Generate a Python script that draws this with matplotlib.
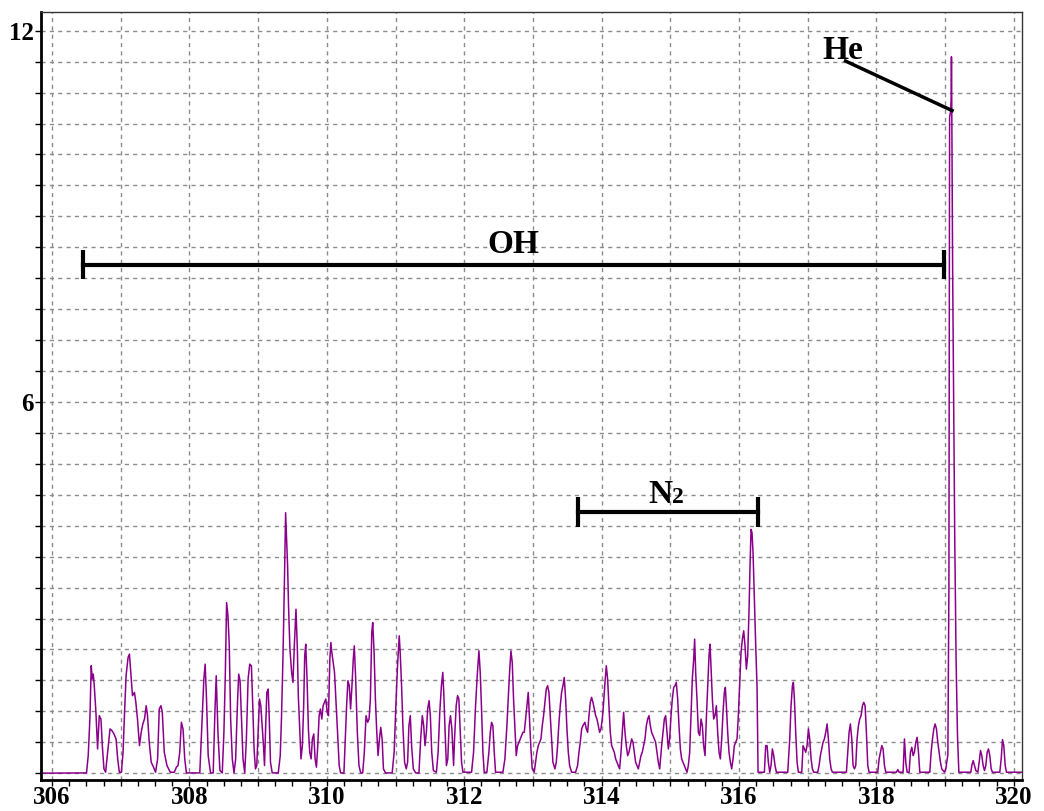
import numpy as np
import matplotlib
matplotlib.use("Agg")
from matplotlib import pyplot as plt
from matplotlib.ticker import MultipleLocator, FixedLocator

# spectrum: wavelength (nm) and intensity (a.u.)
wavelength = [
    305.80, 306.502, 306.527, 306.551, 306.571, 306.585, 306.600, 306.615, 306.639, 306.663,
    306.688, 306.712, 306.732, 306.756, 306.780, 306.810, 306.844, 306.873, 306.902, 306.932,
    306.956, 306.980, 307.010, 307.034, 307.054, 307.078, 307.107, 307.127, 307.146, 307.171,
    307.200, 307.220, 307.244, 307.273, 307.298, 307.322, 307.346, 307.371, 307.390, 307.415,
    307.444, 307.478, 307.507, 307.537, 307.561, 307.585, 307.605, 307.634, 307.673, 307.722,
    307.780, 307.810, 307.834, 307.859, 307.883, 307.907, 307.932, 307.956, 308.151, 308.180,
    308.210, 308.229, 308.249, 308.273, 308.307, 308.346, 308.371, 308.390, 308.415, 308.444,
    308.478, 308.502, 308.522, 308.541, 308.561, 308.580, 308.600, 308.624, 308.649, 308.673,
    308.698, 308.717, 308.737, 308.756, 308.780, 308.805,
    308.829, 308.854, 308.878, 308.902, 308.922, 308.941, 308.961, 308.980, 309.000, 309.020,
    309.039, 309.059, 309.078, 309.093, 309.107, 309.127, 309.146, 309.161, 309.180, 309.205,
    309.293, 309.322, 309.341, 309.361, 309.380, 309.400, 309.415, 309.429, 309.444, 309.463,
    309.488, 309.507, 309.527, 309.551, 309.571, 309.585, 309.605, 309.624, 309.644, 309.663,
    309.678, 309.693, 309.712, 309.732, 309.751, 309.771, 309.790, 309.810, 309.829, 309.849,
    309.868, 309.888, 309.907, 309.927, 309.946, 309.966, 309.985, 310.005, 310.024, 310.044,
    310.059, 310.073, 310.093, 310.112, 310.132, 310.156, 310.180, 310.200, 310.249, 310.268,
    310.288, 310.307, 310.327, 310.346, 310.366, 310.385, 310.400, 310.420, 310.444, 310.468,
    310.493, 310.522, 310.546, 310.571, 310.595, 310.615, 310.634, 310.654, 310.668, 310.688,
    310.707, 310.727, 310.746, 310.766, 310.785, 310.805, 310.824, 310.854, 310.951, 310.980,
    311.005, 311.029, 311.054, 311.068, 311.088, 311.107, 311.132, 311.156, 311.176, 311.195,
    311.215, 311.234, 311.259, 311.293, 311.341, 311.366, 311.390, 311.410, 311.429, 311.449,
    311.468, 311.488, 311.507, 311.527, 311.551, 311.595, 311.620, 311.644, 311.668, 311.688,
    311.702, 311.722, 311.741, 311.761, 311.780, 311.800, 311.820, 311.845,
    311.859, 311.883, 311.903, 311.922, 311.942, 311.961, 311.981, 312.107, 312.136, 312.165,
    312.189, 312.214, 312.233, 312.252, 312.272, 312.291, 312.330, 312.359, 312.379, 312.398,
    312.417, 312.437, 312.456, 312.563, 312.592, 312.621, 312.641, 312.660, 312.680, 312.699,
    312.718, 312.738, 312.757, 312.777, 312.796, 312.816, 312.835, 312.854, 312.874, 312.893,
    312.913, 312.932, 312.951, 312.971, 312.990, 313.019, 313.039, 313.058, 313.078, 313.097,
    313.117, 313.136, 313.155, 313.175, 313.194, 313.214, 313.233, 313.252, 313.272, 313.291,
    313.320, 313.340, 313.359, 313.379, 313.398, 313.417, 313.437, 313.456, 313.476, 313.495,
    313.515, 313.534, 313.563, 313.621, 313.650, 313.670, 313.689, 313.709, 313.728, 313.757,
    313.777, 313.796, 313.816, 313.835, 313.854, 313.874, 313.893, 313.913, 313.932, 313.951,
    313.971, 313.990, 314.010, 314.029, 314.049, 314.068, 314.087, 314.107, 314.126, 314.146,
    314.165, 314.184, 314.204, 314.223, 314.243, 314.262, 314.282, 314.301, 314.320, 314.340,
    314.359, 314.379, 314.398, 314.417, 314.437, 314.456, 314.476, 314.495, 314.515, 314.534,
    314.553, 314.573, 314.592, 314.612, 314.631, 314.651, 314.670, 314.689, 314.709, 314.728,
    314.748, 314.767, 314.786, 314.806, 314.825, 314.845,
    314.874, 314.893, 314.913, 314.932, 314.951, 314.971, 314.990, 315.010, 315.029, 315.049,
    315.068, 315.087, 315.107, 315.126, 315.146, 315.165, 315.184, 315.204, 315.223, 315.243,
    315.262, 315.282, 315.301, 315.320, 315.340, 315.354, 315.369, 315.388, 315.408, 315.427,
    315.447, 315.466, 315.485, 315.505, 315.524, 315.544, 315.563, 315.578, 315.592, 315.612,
    315.631, 315.650, 315.670, 315.689, 315.709, 315.728, 315.748, 315.767, 315.786, 315.801,
    315.816, 315.835, 315.854, 315.874, 315.893, 315.913, 315.932, 315.951, 315.971, 315.990,
    316.010, 316.029, 316.049, 316.068, 316.087, 316.107, 316.126, 316.146, 316.160, 316.175,
    316.189, 316.204, 316.223, 316.243, 316.262, 316.277, 316.369, 316.388, 316.408, 316.427,
    316.447, 316.466, 316.485, 316.505, 316.524, 316.544, 316.709, 316.738, 316.757, 316.777,
    316.791, 316.806, 316.825, 316.845, 316.864, 316.913, 316.932, 316.951, 316.971, 316.990,
    317.010, 317.029, 317.049, 317.068, 317.087, 317.146, 317.165, 317.184, 317.204, 317.223,
    317.243, 317.262, 317.282, 317.301, 317.320, 317.340, 317.359, 317.563, 317.583, 317.602,
    317.621, 317.641, 317.660, 317.680, 317.699, 317.718, 317.738, 317.757, 317.777, 317.796,
    317.816, 317.835,
    317.854, 317.874, 317.893, 318.019, 318.039, 318.058, 318.078, 318.097, 318.117, 318.136,
    318.291, 318.311, 318.330, 318.388, 318.408, 318.427, 318.447, 318.476, 318.495, 318.515,
    318.534, 318.553, 318.573, 318.592, 318.612, 318.631, 318.777, 318.796, 318.816, 318.835,
    318.854, 318.874, 318.893, 318.913, 318.932, 318.951, 318.990, 319.010,
    319.040, 319.055, 319.065, 319.080, 319.088, 319.092, 319.096, 319.110, 319.140, 319.160,
    319.180, 319.200, 319.374, 319.388, 319.408, 319.427, 319.447, 319.476, 319.495, 319.515,
    319.534, 319.553, 319.573, 319.592, 319.612, 319.631, 319.650, 319.670, 319.689, 319.796,
    319.816, 319.835, 319.854, 319.874, 319.893, 320.20,
]
intensity = [
    0.0, 0.005, 0.285, 0.876, 1.737, 1.522, 1.602, 1.414, 0.984, 0.392,
    0.930, 0.876, 0.446, 0.070, 0.016, 0.339, 0.715, 0.688, 0.634, 0.554,
    0.231, 0.016, 0.016, 0.339, 0.930, 1.575, 1.871, 1.925, 1.629, 1.253,
    1.306, 1.145, 0.876, 0.446, 0.661, 0.796, 0.876, 1.091, 0.930, 0.500,
    0.177, 0.097, 0.016, 0.231, 1.038, 1.091, 0.984, 0.339, 0.124, 0.016,
    0.016, 0.097, 0.124, 0.339, 0.823, 0.715, 0.231, 0.005, 0.005, 0.769,
    1.522, 1.763, 1.199, 0.285, 0.005, 0.005, 0.984, 1.575, 0.661, 0.043,
    0.005, 0.661, 1.575, 2.758, 2.543, 2.059, 0.876, 0.231, 0.005, 0.231,
    1.091, 1.602, 1.495, 0.930, 0.231, 0.005,
    0.554, 1.522, 1.763, 1.737, 1.091, 0.392, 0.070, 0.124, 0.661, 1.199,
    1.091, 0.769, 0.446, 0.124, 0.661, 1.306, 1.360, 0.930, 0.177, 0.005,
    0.005, 0.285, 0.930, 1.844, 2.919, 4.210, 3.780, 3.349, 2.651, 2.005,
    1.629, 1.468, 2.059, 2.651, 2.005, 1.253, 0.715, 0.231, 0.446, 1.091,
    1.898, 2.086, 1.522, 0.715, 0.339, 0.231, 0.554, 0.634, 0.231, 0.097,
    0.446, 0.930, 1.038, 0.876, 1.091, 1.145, 1.199, 0.984, 0.930, 1.844,
    2.113, 1.952, 1.790, 1.629, 1.199, 0.661, 0.124, 0.005, 0.005, 0.554,
    1.091, 1.495, 1.414, 1.038, 1.414, 1.844, 2.059, 1.522, 0.661, 0.124,
    0.005, 0.005, 0.339, 0.930, 0.823, 0.876, 1.199, 2.274, 2.435, 1.952,
    1.199, 0.661, 0.285, 0.554, 0.742, 0.554, 0.070, 0.005, 0.005, 0.339,
    1.091, 1.737, 2.220, 1.952, 1.414, 0.769, 0.177, 0.070, 0.177, 0.769,
    0.930, 0.446, 0.070, 0.005, 0.005, 0.554, 0.930, 0.769, 0.446, 0.661,
    1.038, 1.172, 0.930, 0.339, 0.043, 0.016, 0.339, 0.984, 1.414, 1.629,
    1.306, 0.661, 0.124, 0.231, 0.769, 0.930, 0.715, 0.124,
    0.554, 1.091, 1.253, 1.199, 0.661, 0.177, 0.016, 0.016, 0.339, 1.091,
    1.575, 1.978, 1.629, 1.038, 0.339, 0.016, 0.016, 0.339, 0.661, 0.823,
    0.769, 0.339, 0.016, 0.016, 0.231, 0.769, 1.199, 1.629, 1.978, 1.790,
    1.199, 0.715, 0.285, 0.446, 0.500, 0.554, 0.608, 0.661, 0.661, 0.876,
    1.091, 1.306, 0.876, 0.392, 0.070, 0.016, 0.177, 0.339, 0.446, 0.500,
    0.554, 0.769, 0.930, 1.145, 1.360, 1.414, 1.306, 0.930, 0.554, 0.177,
    0.070, 0.177, 0.446, 0.823, 1.091, 1.306, 1.414, 1.548, 1.199, 0.715,
    0.339, 0.124, 0.016, 0.016, 0.124, 0.339, 0.500, 0.715, 0.769, 0.823,
    0.715, 0.661, 0.930, 1.145, 1.226, 1.145, 1.038, 0.930, 0.876, 0.769,
    0.661, 0.715, 0.876, 1.145, 1.468, 1.737, 1.522, 1.091, 0.661, 0.446,
    0.392, 0.339, 0.231, 0.177, 0.124, 0.070, 0.339, 0.661, 0.984, 0.661,
    0.446, 0.285, 0.339, 0.446, 0.554, 0.500, 0.339, 0.177, 0.124, 0.070,
    0.177, 0.285, 0.339, 0.446, 0.554, 0.769, 0.876, 0.930, 0.769, 0.661,
    0.608, 0.554, 0.500, 0.339, 0.177, 0.070,
    0.446, 0.661, 0.876, 0.930, 0.661, 0.392, 0.554, 0.930, 1.199, 1.387,
    1.414, 1.468, 1.199, 0.769, 0.392, 0.231, 0.177, 0.124, 0.070, 0.016,
    0.124, 0.339, 0.930, 1.522, 1.844, 2.167, 1.629, 1.199, 0.661, 0.608,
    0.876, 0.769, 0.446, 0.285, 0.876, 1.414, 1.898, 2.086, 1.737, 1.199,
    0.876, 0.930, 1.091, 0.661, 0.339, 0.231, 0.554, 0.984, 1.306, 1.387,
    1.091, 0.661, 0.339, 0.177, 0.070, 0.231, 0.446, 0.500, 0.554, 0.930,
    1.468, 1.952, 2.167, 2.301, 2.059, 1.683, 1.898, 2.651, 3.349, 3.941,
    3.887, 3.565, 2.812, 2.059, 1.414, 0.016, 0.016, 0.446, 0.446, 0.177,
    0.016, 0.124, 0.392, 0.285, 0.124, 0.016, 0.016, 0.554, 1.091, 1.414,
    1.468, 1.199, 0.661, 0.177, 0.016, 0.016, 0.446, 0.392, 0.339, 0.446,
    0.715, 0.554, 0.231, 0.070, 0.016, 0.016, 0.124, 0.285, 0.392, 0.500,
    0.554, 0.661, 0.796, 0.554, 0.231, 0.070, 0.016, 0.016, 0.339, 0.661,
    0.796, 0.554, 0.124, 0.070, 0.124, 0.554, 0.769, 0.876, 0.930, 1.091,
    1.145, 1.090,
    0.661, 0.124, 0.016, 0.016, 0.231, 0.339, 0.446, 0.392, 0.124, 0.016,
    0.016, 0.059, 0.016, 0.016, 0.554, 0.177, 0.016, 0.016, 0.339, 0.419,
    0.285, 0.339, 0.500, 0.581, 0.339, 0.016, 0.016, 0.339, 0.554, 0.715,
    0.796, 0.715, 0.500, 0.339, 0.177, 0.070, 0.016, 0.070,
    0.300, 3.000, 10.60, 10.70, 10.90, 11.58, 10.90, 8.000, 3.800, 1.800,
    0.600, 0.016, 0.016, 0.124, 0.204, 0.124, 0.043, 0.016, 0.177, 0.366,
    0.285, 0.124, 0.043, 0.124, 0.339, 0.392, 0.285, 0.070, 0.016, 0.016,
    0.231, 0.543, 0.446, 0.124, 0.016, 0.016,
]

# band annotations
oh_range = [306.45, 318.99]
oh_level = 8.22
n2_range = [313.66, 316.28]
n2_level = 4.22
he_label = [317.51, 11.55]
he_line_x = [317.55, 319.10]
he_line_y = [11.51, 10.71]

x_ticks = [306, 308, 310, 312, 314, 316, 318, 320]
y_ticks = [6, 12]

plt.rcParams['font.family'] = ['Liberation Serif', 'DejaVu Serif']

fig = plt.figure(figsize=(10.44, 8.11), dpi=100)
ax = fig.add_axes([0.0393, 0.0382, 0.9397, 0.9468])

# dashed grid: every 1 nm and every 0.5 units
for gx in np.arange(306, 321, 1.0):
    ax.axvline(gx, color='#8c8c8c', lw=1, ls=(0, (3, 3)), zorder=0)
for gy in np.arange(0, 12.5, 0.5):
    ax.axhline(gy, color='#8c8c8c', lw=1, ls=(0, (3, 3)), zorder=0)

ax.plot(wavelength, intensity, color='#8B008B', lw=1.1, zorder=2)

# brackets
cap = 0.24
ax.plot(oh_range, [oh_level, oh_level], color='black', lw=3, zorder=3)
ax.vlines(oh_range, oh_level - cap, oh_level + cap, color='black', lw=3, zorder=3)
ax.text(np.mean(oh_range), oh_level + 0.18, 'OH', ha='center', va='baseline',
        fontsize=24, fontweight='bold')

ax.plot(n2_range, [n2_level, n2_level], color='black', lw=3, zorder=3)
ax.vlines(n2_range, n2_level - cap, n2_level + cap, color='black', lw=3, zorder=3)
ax.text(315.03, n2_level + 0.15, 'N', ha='right', va='baseline',
        fontsize=24, fontweight='bold')
ax.text(315.03, n2_level + 0.15, '2', ha='left', va='baseline',
        fontsize=17, fontweight='bold')

ax.plot(he_line_x, he_line_y, color='black', lw=2.5, zorder=3)
ax.text(he_label[0], he_label[1], 'He', ha='center', va='baseline',
        fontsize=24, fontweight='bold')

ax.set_xlim(305.84, 320.12)
ax.set_ylim(-0.11, 12.3)

ax.xaxis.set_major_locator(FixedLocator(x_ticks))
ax.xaxis.set_minor_locator(MultipleLocator(0.25))
ax.yaxis.set_major_locator(FixedLocator(y_ticks))
ax.yaxis.set_minor_locator(MultipleLocator(0.5))
ax.tick_params(axis='both', which='both', direction='out', length=4, width=1,
               labelsize=18)
ax.tick_params(axis='x', which='major', pad=0)
ax.tick_params(axis='y', which='major', pad=1)
for lab in ax.get_xticklabels() + ax.get_yticklabels():
    lab.set_fontweight('bold')

for side in ['left', 'bottom']:
    ax.spines[side].set_linewidth(2)
    ax.spines[side].set_color('black')
for side in ['top', 'right']:
    ax.spines[side].set_linewidth(1)
    ax.spines[side].set_color('#333333')

fig.savefig('out.png', dpi=100)
